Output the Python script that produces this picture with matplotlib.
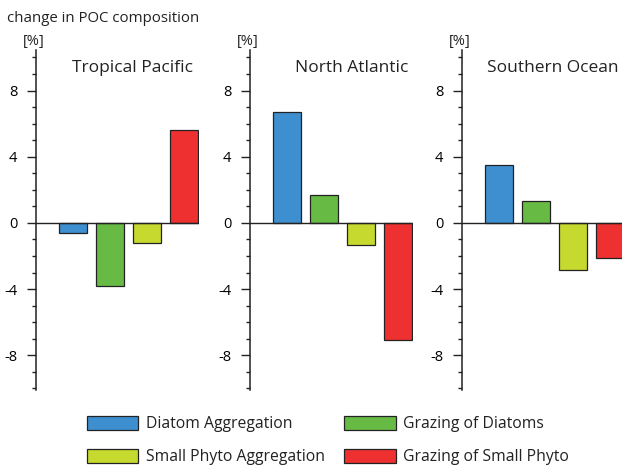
import matplotlib
matplotlib.use("Agg")
import matplotlib.pyplot as plt
from matplotlib.patches import Patch
from matplotlib.ticker import MultipleLocator, FixedLocator

plt.rcParams['font.family'] = ['Open Sans', 'DejaVu Sans']

regions = ["Tropical Pacific", "North Atlantic", "Southern Ocean"]
processes = ["Diatom Aggregation", "Grazing of Diatoms",
             "Small Phyto Aggregation", "Grazing of Small Phyto"]
colors = ["#3d8fd0", "#67bb45", "#c6d92e", "#ee3030"]
values = {
    "Tropical Pacific": [-0.6, -3.8, -1.2, 5.6],
    "North Atlantic": [6.7, 1.7, -1.35, -7.1],
    "Southern Ocean": [3.5, 1.35, -2.85, -2.1],
}
major_ticks = [-8, -4, 0, 4, 8]

W, H = 622, 469
fig = plt.figure(figsize=(W / 100, H / 100), dpi=100)

lefts_px = [36, 250, 462]
title_x = [0.59, 0.627, 0.555]
ax_w = 162.8 / W
ax_b = (H - 390) / H
ax_h = (390 - 50) / H

for i, (reg, lp) in enumerate(zip(regions, lefts_px)):
    ax = fig.add_axes([lp / W, ax_b, ax_w, ax_h])
    x = list(range(len(processes)))
    ax.bar(x, values[reg], width=0.76, color=colors, edgecolor="#222222",
           linewidth=0.9, zorder=2)
    ax.axhline(0, color="#222222", linewidth=1.0, zorder=3)
    ax.set_xlim(-1, 3.4)
    ax.set_ylim(-10.1, 10.45)
    for s in ["top", "right", "bottom"]:
        ax.spines[s].set_visible(False)
    ax.spines["left"].set_linewidth(1.1)
    ax.spines["left"].set_color("#222222")
    ax.set_xticks([])
    ax.yaxis.set_major_locator(FixedLocator(major_ticks))
    ax.yaxis.set_minor_locator(MultipleLocator(1))
    ax.set_yticklabels([str(t) for t in major_ticks])
    ax.tick_params(axis="y", which="major", length=6.5, width=1.0,
                   color="#222222", labelsize=10.5, pad=7)
    ax.tick_params(axis="y", which="minor", length=3, width=1.0,
                   color="#222222")
    ax.patch.set_alpha(0)
    ax.text(title_x[i], 0.947, reg, transform=ax.transAxes, ha="center",
            va="center", fontsize=12.5, color="#222222")
    fig.text((lp - 2) / W, 1 - 41 / H, "[%]", ha="center", va="center",
             fontsize=10.5, color="#222222")

fig.text(7 / W, 1 - 18 / H, "change in POC composition", ha="left",
         va="center", fontsize=10.8, color="#222222")

handles = [Patch(facecolor=c, edgecolor="#222222", linewidth=0.9) for c in colors]
for col, (idx, xpx) in enumerate([((0, 2), 82), ((1, 3), 339)]):
    leg = fig.legend([handles[j] for j in idx], [processes[j] for j in idx],
                     loc="upper left", bbox_to_anchor=(xpx / W, 1 - 411 / H),
                     frameon=False, fontsize=11.3, handlelength=3.3,
                     handleheight=1.0, handletextpad=0.45, labelspacing=1.05,
                     borderaxespad=0, borderpad=0.3)
    for t in leg.get_texts():
        t.set_color("#222222")

fig.savefig("out.png", dpi=100)
